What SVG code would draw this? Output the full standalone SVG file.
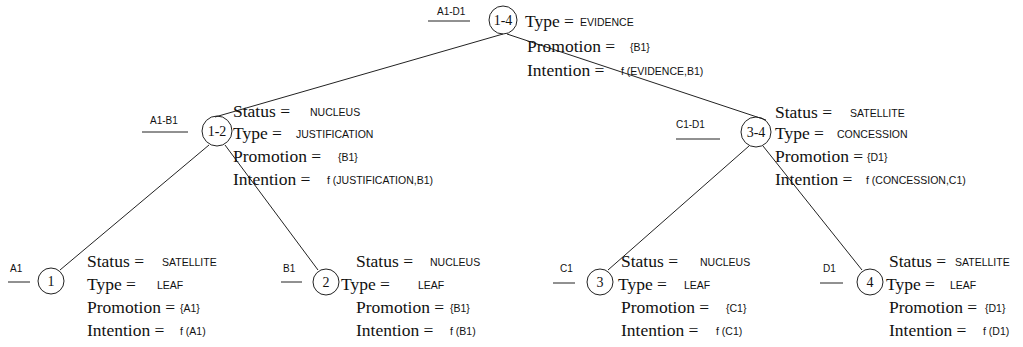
<svg xmlns="http://www.w3.org/2000/svg" width="1023" height="347" viewBox="0 0 1023 347">
<style>
.bg{fill:#ffffff}
.c{fill:none;stroke:#222;stroke-width:1}
.e{fill:none;stroke:#222;stroke-width:1}
.n{font-family:"Liberation Serif",serif;font-size:14px;fill:#111;text-anchor:middle}
.l{font-family:"Liberation Serif",serif;font-size:17.5px;fill:#111}
.v{font-family:"Liberation Sans",sans-serif;font-size:10.5px;fill:#111}
.s{font-family:"Liberation Sans",sans-serif;font-size:10px;fill:#111}
</style>
<rect class="bg" x="0" y="0" width="1023" height="347"/>
<g id="connectors">
<line class="e" x1="503" y1="34" x2="215" y2="117"/>
<line class="e" x1="507" y1="34" x2="766" y2="120"/>
<line class="e" x1="209" y1="145" x2="60" y2="270"/>
<line class="e" x1="225" y1="145" x2="318" y2="270"/>
<line class="e" x1="749" y1="146" x2="608" y2="270"/>
<line class="e" x1="763" y1="146" x2="862" y2="270"/>
</g>
<g id="node-1-4">
<text class="s" x="437" y="15">A1-D1</text>
<line class="e" x1="428" y1="21" x2="470" y2="21"/>
<circle class="c" cx="503" cy="20" r="14"/>
<text class="n" x="503" y="25">1-4</text>
<text class="l" x="525" y="27">Type =</text><text class="v" x="580" y="26">EVIDENCE</text>
<text class="l" x="527" y="52">Promotion =</text><text class="v" x="630" y="51">{B1}</text>
<text class="l" x="527" y="76">Intention =</text><text class="v" x="621" y="75">f (EVIDENCE,B1)</text>
</g>
<g id="node-1-2">
<text class="s" x="150" y="124">A1-B1</text>
<line class="e" x1="142" y1="132" x2="188" y2="132"/>
<circle class="c" cx="217" cy="131" r="15"/>
<text class="n" x="217" y="136">1-2</text>
<text class="l" x="233" y="117">Status =</text><text class="v" x="310" y="116">NUCLEUS</text>
<text class="l" x="233" y="139">Type =</text><text class="v" x="296" y="138">JUSTIFICATION</text>
<text class="l" x="233" y="162">Promotion =</text><text class="v" x="338" y="161">{B1}</text>
<text class="l" x="233" y="185">Intention =</text><text class="v" x="327" y="184">f (JUSTIFICATION,B1)</text>
</g>
<g id="node-3-4">
<text class="s" x="676" y="128">C1-D1</text>
<line class="e" x1="676" y1="139" x2="720" y2="139"/>
<circle class="c" cx="756" cy="132" r="15"/>
<text class="n" x="756" y="137">3-4</text>
<text class="l" x="775" y="118">Status =</text><text class="v" x="850" y="117">SATELLITE</text>
<text class="l" x="775" y="139">Type =</text><text class="v" x="837" y="138">CONCESSION</text>
<text class="l" x="775" y="162">Promotion =</text><text class="v" x="867" y="161">{D1}</text>
<text class="l" x="775" y="185">Intention =</text><text class="v" x="866" y="184">f (CONCESSION,C1)</text>
</g>
<g id="node-1">
<text class="s" x="10" y="272">A1</text>
<line class="e" x1="8" y1="282" x2="30" y2="282"/>
<circle class="c" cx="51" cy="281" r="13"/>
<text class="n" x="51" y="286">1</text>
<text class="l" x="87" y="267">Status =</text><text class="v" x="162" y="266">SATELLITE</text>
<text class="l" x="87" y="290">Type =</text><text class="v" x="157" y="289">LEAF</text>
<text class="l" x="87" y="313">Promotion =</text><text class="v" x="180" y="312">{A1}</text>
<text class="l" x="87" y="336">Intention =</text><text class="v" x="180" y="335">f (A1)</text>
</g>
<g id="node-2">
<text class="s" x="283" y="272">B1</text>
<line class="e" x1="281" y1="282" x2="302" y2="282"/>
<circle class="c" cx="326" cy="282" r="13"/>
<text class="n" x="326" y="287">2</text>
<text class="l" x="356" y="267">Status =</text><text class="v" x="430" y="266">NUCLEUS</text>
<text class="l" x="341" y="290">Type =</text><text class="v" x="418" y="289">LEAF</text>
<text class="l" x="356" y="313">Promotion =</text><text class="v" x="450" y="312">{B1}</text>
<text class="l" x="356" y="336">Intention =</text><text class="v" x="450" y="335">f (B1)</text>
</g>
<g id="node-3">
<text class="s" x="560" y="272">C1</text>
<line class="e" x1="553" y1="283" x2="575" y2="283"/>
<circle class="c" cx="600" cy="282" r="13"/>
<text class="n" x="600" y="287">3</text>
<text class="l" x="621" y="267">Status =</text><text class="v" x="700" y="266">NUCLEUS</text>
<text class="l" x="618" y="290">Type =</text><text class="v" x="684" y="289">LEAF</text>
<text class="l" x="621" y="313">Promotion =</text><text class="v" x="726" y="312">{C1}</text>
<text class="l" x="621" y="336">Intention =</text><text class="v" x="716" y="335">f (C1)</text>
</g>
<g id="node-4">
<text class="s" x="823" y="272">D1</text>
<line class="e" x1="820" y1="283" x2="843" y2="283"/>
<circle class="c" cx="870" cy="282" r="13"/>
<text class="n" x="870" y="287">4</text>
<text class="l" x="889" y="267">Status =</text><text class="v" x="955" y="266">SATELLITE</text>
<text class="l" x="886" y="290">Type =</text><text class="v" x="950" y="289">LEAF</text>
<text class="l" x="889" y="313">Promotion =</text><text class="v" x="985" y="312">{D1}</text>
<text class="l" x="889" y="336">Intention =</text><text class="v" x="983" y="335">f (D1)</text>
</g>
</svg>
